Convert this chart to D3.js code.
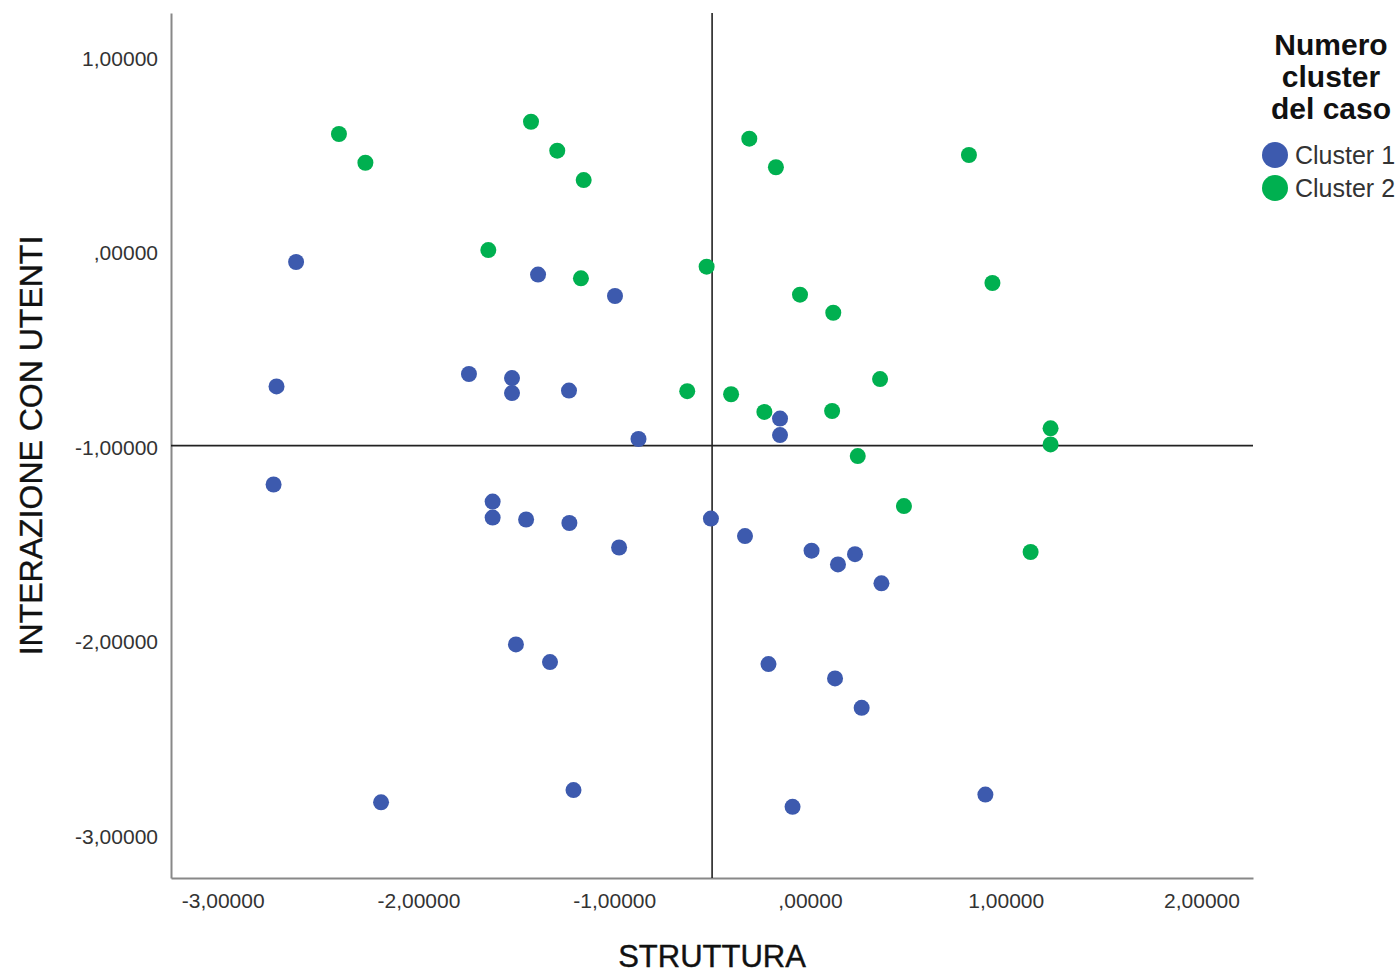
<!DOCTYPE html>
<html>
<head>
<meta charset="utf-8">
<script src="https://cdn.jsdelivr.net/npm/d3@7"></script>
<style>
  body { margin: 0; background: #fff; }
  text { font-family: "Liberation Sans", Arial, sans-serif; }
</style>
</head>
<body>
<div id="chart"></div>
<script>
// Cluster 1 points [STRUTTURA, INTERAZIONE CON UTENTI]
const cluster1 = [
  [-2.625, -0.046], [-1.389, -0.111], [-0.996, -0.221], [-2.725, -0.686],
  [-1.742, -0.622], [-1.522, -0.643], [-1.522, -0.720], [-1.231, -0.707],
  [-0.876, -0.956], [-0.153, -0.851], [-0.153, -0.936], [-2.740, -1.190],
  [-1.621, -1.278], [-1.621, -1.360], [-1.450, -1.370], [-1.229, -1.388],
  [-0.975, -1.514], [-0.506, -1.365], [-0.332, -1.455], [0.008, -1.530],
  [0.143, -1.601], [0.230, -1.548], [0.365, -1.698], [-1.502, -2.012],
  [-1.328, -2.103], [-0.212, -2.113], [0.128, -2.187], [0.264, -2.338],
  [-2.191, -2.824], [-1.208, -2.761], [-0.089, -2.847], [0.896, -2.784]
];

// Cluster 2 points
const cluster2 = [
  [-2.406, 0.612], [-2.271, 0.464], [-1.425, 0.675], [-1.291, 0.526],
  [-1.156, 0.375], [-1.643, 0.015], [-1.170, -0.130], [-0.528, -0.070],
  [-0.310, 0.588], [-0.174, 0.441], [0.812, 0.504], [-0.051, -0.214],
  [0.119, -0.307], [0.932, -0.154], [0.358, -0.648], [-0.627, -0.710],
  [-0.403, -0.726], [-0.233, -0.817], [0.113, -0.812], [0.244, -1.044],
  [0.480, -1.301], [1.229, -0.901], [1.229, -0.984], [1.127, -1.537]
];

const xTicks = [-3, -2, -1, 0, 1, 2];
const yTicks = [1, 0, -1, -2, -3];
const refX = -0.50;
const refY = -0.99;
const clusterNames = ["Cluster 1", "Cluster 2"];
const clusterColors = ["#3D5AAE", "#00B050"];

const width = 1400, height = 974;
const plot = { left: 171, right: 1253, top: 13, bottom: 878 };

const fmt = v => v === 0 ? ",00000" : v.toFixed(5).replace(".", ",");

const svg = d3.select("#chart").append("svg")
  .attr("width", width)
  .attr("height", height);

const x = d3.scaleLinear().domain([-3.264, 2.263]).range([plot.left, plot.right]);
const y = d3.scaleLinear().domain([-3.213, 1.234]).range([plot.bottom, plot.top]);

// axes
const xAxis = svg.append("g")
  .attr("transform", `translate(0,${plot.bottom})`)
  .call(d3.axisBottom(x).tickValues(xTicks).tickFormat(fmt).tickSize(0).tickPadding(15));
const yAxis = svg.append("g")
  .attr("transform", `translate(${plot.left},0)`)
  .call(d3.axisLeft(y).tickValues(yTicks).tickFormat(fmt).tickSize(0).tickPadding(13));

[xAxis, yAxis].forEach(g => {
  g.select(".domain").attr("stroke", "#888").attr("stroke-width", 2);
  g.selectAll("text")
    .attr("font-family", "'Liberation Sans', Arial, sans-serif")
    .attr("font-size", 21)
    .attr("fill", "#333");
});

// reference lines
svg.append("line")
  .attr("x1", x(refX)).attr("x2", x(refX))
  .attr("y1", plot.top).attr("y2", plot.bottom)
  .attr("stroke", "#222").attr("stroke-width", 1.6);
svg.append("line")
  .attr("x1", plot.left).attr("x2", plot.right)
  .attr("y1", y(refY)).attr("y2", y(refY))
  .attr("stroke", "#222").attr("stroke-width", 1.6);

// points
[cluster1, cluster2].forEach((pts, i) => {
  svg.append("g")
    .selectAll("circle")
    .data(pts)
    .enter().append("circle")
      .attr("cx", d => x(d[0]))
      .attr("cy", d => y(d[1]))
      .attr("r", 8)
      .attr("fill", clusterColors[i]);
});

// axis titles
svg.append("text")
  .attr("x", (plot.left + plot.right) / 2)
  .attr("y", 967)
  .attr("text-anchor", "middle")
  .attr("font-size", 31)
  .attr("fill", "#111")
  .attr("stroke", "#111")
  .attr("stroke-width", 0.4)
  .text("STRUTTURA");

svg.append("text")
  .attr("transform", `translate(42,${(plot.top + plot.bottom) / 2}) rotate(-90)`)
  .attr("text-anchor", "middle")
  .attr("font-size", 32)
  .attr("fill", "#111")
  .attr("stroke", "#111")
  .attr("stroke-width", 0.4)
  .text("INTERAZIONE CON UTENTI");

// legend
const legend = svg.append("g");
["Numero", "cluster", "del caso"].forEach((t, i) => {
  legend.append("text")
    .attr("x", 1331)
    .attr("y", 55 + i * 32)
    .attr("text-anchor", "middle")
    .attr("font-size", 30)
    .attr("font-weight", "bold")
    .attr("fill", "#111")
    .text(t);
});
clusterNames.forEach((name, i) => {
  legend.append("circle")
    .attr("cx", 1275)
    .attr("cy", 155 + i * 33)
    .attr("r", 13)
    .attr("fill", clusterColors[i]);
  legend.append("text")
    .attr("x", 1295)
    .attr("y", 164 + i * 33)
    .attr("font-family", "Roboto, sans-serif")
    .attr("font-size", 25)
    .attr("fill", "#333")
    .text(name);
});
</script>
</body>
</html>
